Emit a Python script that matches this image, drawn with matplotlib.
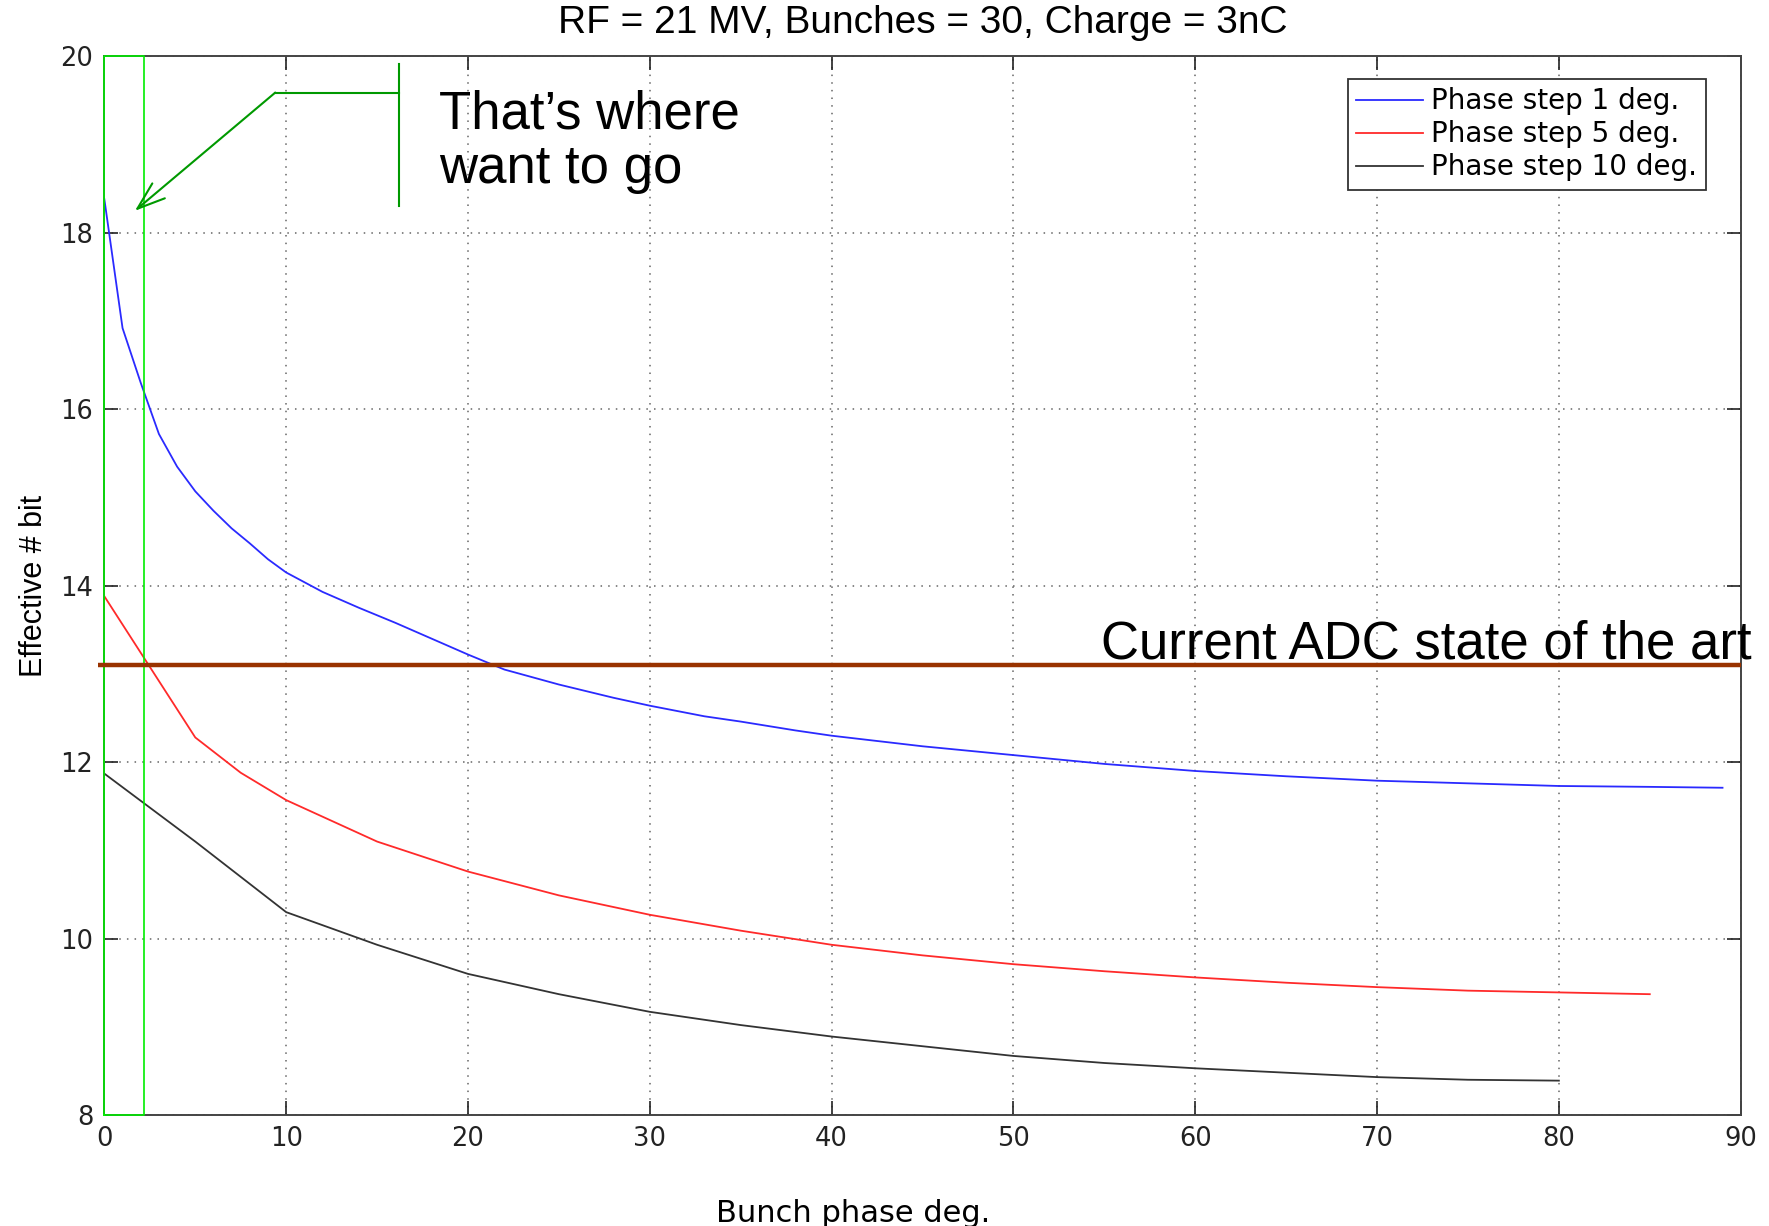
import matplotlib
matplotlib.use('Agg')
import matplotlib.pyplot as plt

plt.rcParams['font.family'] = ['Liberation Sans', 'DejaVu Sans']

# Phase step 1 deg.
phase_1 = [0, 1, 2, 3, 4, 5, 6, 7, 8, 9, 10, 12, 14, 16, 18, 20, 22, 25, 28, 30,
           33, 35, 38, 40, 45, 50, 55, 60, 65, 70, 75, 80, 85, 89]
bits_1 = [18.38, 16.92, 16.3, 15.72, 15.35, 15.07, 14.85, 14.65, 14.48, 14.3, 14.15,
          13.93, 13.75, 13.58, 13.4, 13.22, 13.05, 12.88, 12.73, 12.64,
          12.52, 12.46, 12.36, 12.30, 12.18, 12.08, 11.98, 11.90, 11.84, 11.79,
          11.76, 11.73, 11.72, 11.71]

# Phase step 5 deg.
phase_5 = [0, 5, 7.5, 10, 15, 20, 25, 30, 35, 40, 45, 50, 55, 60, 65, 70, 75, 80, 85]
bits_5 = [13.88, 12.28, 11.88, 11.57, 11.1, 10.76, 10.49, 10.27, 10.09, 9.93, 9.81,
          9.71, 9.63, 9.56, 9.50, 9.45, 9.41, 9.39, 9.37]

# Phase step 10 deg.
phase_10 = [0, 5, 10, 15, 20, 25, 30, 35, 40, 45, 50, 55, 60, 65, 70, 75, 80]
bits_10 = [11.87, 11.1, 10.3, 9.93, 9.6, 9.37, 9.17, 9.02, 8.89, 8.78, 8.67, 8.59,
           8.53, 8.48, 8.43, 8.40, 8.39]

adc_state_of_art = 13.1
target_phase = 2.2

x_ticks = list(range(0, 91, 10))
y_ticks = list(range(8, 21, 2))

fig = plt.figure(figsize=(17.69, 12.26), dpi=100)
ax = fig.add_axes([0.059, 0.0905, 0.925, 0.8635])

ax.plot(phase_1, bits_1, color='#2a2aff', lw=1.3, label='Phase step 1 deg.')
ax.plot(phase_5, bits_5, color='#ff2a2a', lw=1.3, label='Phase step 5 deg.')
ax.plot(phase_10, bits_10, color='#333333', lw=1.3, label='Phase step 10 deg.')

# ADC state of the art line
ax.axhline(adc_state_of_art, xmin=-0.004, xmax=1.0, color='#993300', lw=3.2,
           clip_on=False, zorder=4, solid_capstyle='butt')
ax.text(90.6, adc_state_of_art + 0.07, 'Current ADC state of the art', fontsize=38,
        ha='right', va='baseline', clip_on=False, zorder=5)

# green target box
ax.plot([0, target_phase, target_phase, 0, 0], [8, 8, 20, 20, 8], color='#00ee00', lw=1.2,
        clip_on=False, zorder=3)

# arrow with bracket
dk = '#009900'
ax.plot([16.2, 16.2], [18.3, 19.91], color=dk, lw=1.5)
ax.plot([9.4, 16.2], [19.59, 19.59], color=dk, lw=1.5)
ax.annotate('', xy=(1.68, 18.25), xytext=(9.4, 19.59),
            arrowprops=dict(arrowstyle='->,head_length=2.0,head_width=0.7', color=dk, lw=1.5,
                            shrinkA=0, shrinkB=0))
ax.text(18.4, 19.62, 'That\u2019s where\nwant to go', fontsize=38, ha='left', va='top',
        linespacing=1.1)

ax.set_xlim(0, 90)
ax.set_ylim(8, 20)
ax.set_xticks(x_ticks)
ax.set_yticks(y_ticks)
ax.tick_params(direction='in', top=True, right=True, length=10, width=1.2,
               labelsize=18.5, colors='#222222', pad=8)
for lbl in ax.get_xticklabels() + ax.get_yticklabels():
    lbl.set_family('DejaVu Sans')
for sp in ax.spines.values():
    sp.set_color('#444444')
    sp.set_linewidth(1.4)
ax.grid(True, linestyle=(0, (1, 4)), color='#666666', lw=1.1)

ax.set_title('RF = 21 MV, Bunches = 30, Charge = 3nC', fontsize=28, pad=17)
ax.set_xlabel('Bunch phase deg.', fontsize=22, family='DejaVu Sans')
ax.xaxis.set_label_coords(0.4576, -0.079)
ax.set_ylabel('Effective # bit', fontsize=22)
ax.yaxis.set_label_coords(-0.034, 0.5)

leg = ax.legend(loc='upper right', bbox_to_anchor=(0.9786, 0.9787), borderaxespad=0,
                prop={'family': 'DejaVu Sans', 'size': 20},
                fancybox=False, framealpha=1, edgecolor='#333333', handlelength=2.4,
                handletextpad=0.3, borderpad=0.3, labelspacing=0.18)
leg.get_frame().set_linewidth(1.3)

fig.savefig('out.png', dpi=100)
